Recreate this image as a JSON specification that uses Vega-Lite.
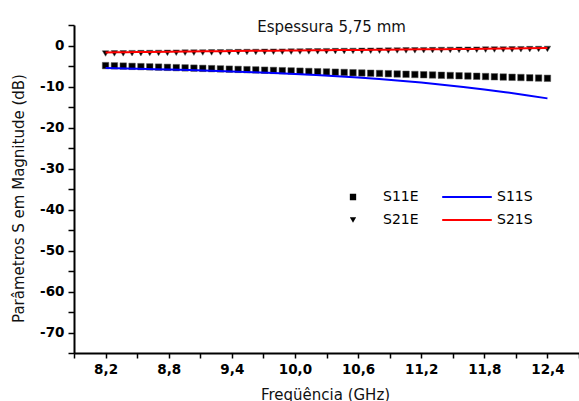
{
  "$schema": "https://vega.github.io/schema/vega-lite/v6.json",
  "width": 505,
  "height": 328,
  "autosize": {"type": "none"},
  "padding": {"left": 74, "top": 25, "right": 0, "bottom": 48},
  "background": "white",
  "title": {
    "text": "Espessura 5,75 mm",
    "font": "DejaVu Sans",
    "fontSize": 15,
    "fontWeight": "normal",
    "color": "#111111",
    "anchor": "middle",
    "frame": "group",
    "baseline": "alphabetic",
    "offset": -1,
    "dx": 5,
    "dy": 22
  },
  "datasets": {
    "exp": [
      {"f": 8.2, "S11E": -4.90, "S21E": -1.95},
      {"f": 8.284, "S11E": -4.96, "S21E": -1.93},
      {"f": 8.368, "S11E": -5.02, "S21E": -1.91},
      {"f": 8.452, "S11E": -5.09, "S21E": -1.88},
      {"f": 8.536, "S11E": -5.15, "S21E": -1.86},
      {"f": 8.62, "S11E": -5.21, "S21E": -1.84},
      {"f": 8.704, "S11E": -5.27, "S21E": -1.82},
      {"f": 8.788, "S11E": -5.33, "S21E": -1.80},
      {"f": 8.872, "S11E": -5.40, "S21E": -1.77},
      {"f": 8.956, "S11E": -5.46, "S21E": -1.75},
      {"f": 9.04, "S11E": -5.52, "S21E": -1.73},
      {"f": 9.124, "S11E": -5.58, "S21E": -1.71},
      {"f": 9.208, "S11E": -5.64, "S21E": -1.69},
      {"f": 9.292, "S11E": -5.71, "S21E": -1.66},
      {"f": 9.376, "S11E": -5.77, "S21E": -1.64},
      {"f": 9.46, "S11E": -5.83, "S21E": -1.62},
      {"f": 9.544, "S11E": -5.89, "S21E": -1.60},
      {"f": 9.628, "S11E": -5.95, "S21E": -1.58},
      {"f": 9.712, "S11E": -6.02, "S21E": -1.55},
      {"f": 9.796, "S11E": -6.08, "S21E": -1.53},
      {"f": 9.88, "S11E": -6.14, "S21E": -1.51},
      {"f": 9.964, "S11E": -6.20, "S21E": -1.49},
      {"f": 10.048, "S11E": -6.26, "S21E": -1.47},
      {"f": 10.132, "S11E": -6.33, "S21E": -1.44},
      {"f": 10.216, "S11E": -6.39, "S21E": -1.42},
      {"f": 10.3, "S11E": -6.45, "S21E": -1.40},
      {"f": 10.384, "S11E": -6.51, "S21E": -1.38},
      {"f": 10.468, "S11E": -6.57, "S21E": -1.36},
      {"f": 10.552, "S11E": -6.64, "S21E": -1.33},
      {"f": 10.636, "S11E": -6.70, "S21E": -1.31},
      {"f": 10.72, "S11E": -6.76, "S21E": -1.29},
      {"f": 10.804, "S11E": -6.82, "S21E": -1.27},
      {"f": 10.888, "S11E": -6.88, "S21E": -1.25},
      {"f": 10.972, "S11E": -6.95, "S21E": -1.22},
      {"f": 11.056, "S11E": -7.01, "S21E": -1.20},
      {"f": 11.14, "S11E": -7.07, "S21E": -1.18},
      {"f": 11.224, "S11E": -7.13, "S21E": -1.16},
      {"f": 11.308, "S11E": -7.19, "S21E": -1.14},
      {"f": 11.392, "S11E": -7.26, "S21E": -1.11},
      {"f": 11.476, "S11E": -7.32, "S21E": -1.09},
      {"f": 11.56, "S11E": -7.38, "S21E": -1.07},
      {"f": 11.644, "S11E": -7.44, "S21E": -1.05},
      {"f": 11.728, "S11E": -7.50, "S21E": -1.03},
      {"f": 11.812, "S11E": -7.57, "S21E": -1.00},
      {"f": 11.896, "S11E": -7.63, "S21E": -0.98},
      {"f": 11.98, "S11E": -7.69, "S21E": -0.96},
      {"f": 12.064, "S11E": -7.75, "S21E": -0.94},
      {"f": 12.148, "S11E": -7.81, "S21E": -0.92},
      {"f": 12.232, "S11E": -7.88, "S21E": -0.89},
      {"f": 12.316, "S11E": -7.94, "S21E": -0.87},
      {"f": 12.4, "S11E": -8.00, "S21E": -0.85}
    ],
    "sim": [
      {"f": 8.2, "S11S": -5.50, "S21S": -1.70},
      {"f": 8.4, "S11S": -5.62, "S21S": -1.64},
      {"f": 8.6, "S11S": -5.74, "S21S": -1.58},
      {"f": 8.8, "S11S": -5.86, "S21S": -1.52},
      {"f": 9.0, "S11S": -6.00, "S21S": -1.46},
      {"f": 9.2, "S11S": -6.15, "S21S": -1.41},
      {"f": 9.4, "S11S": -6.32, "S21S": -1.36},
      {"f": 9.6, "S11S": -6.50, "S21S": -1.31},
      {"f": 9.8, "S11S": -6.71, "S21S": -1.26},
      {"f": 10.0, "S11S": -6.94, "S21S": -1.21},
      {"f": 10.2, "S11S": -7.20, "S21S": -1.16},
      {"f": 10.4, "S11S": -7.49, "S21S": -1.12},
      {"f": 10.6, "S11S": -7.82, "S21S": -1.07},
      {"f": 10.8, "S11S": -8.19, "S21S": -1.03},
      {"f": 11.0, "S11S": -8.60, "S21S": -0.99},
      {"f": 11.2, "S11S": -9.05, "S21S": -0.94},
      {"f": 11.4, "S11S": -9.56, "S21S": -0.90},
      {"f": 11.6, "S11S": -10.11, "S21S": -0.85},
      {"f": 11.8, "S11S": -10.72, "S21S": -0.80},
      {"f": 12.0, "S11S": -11.38, "S21S": -0.74},
      {"f": 12.2, "S11S": -12.11, "S21S": -0.68},
      {"f": 12.4, "S11S": -12.90, "S21S": -0.62}
    ]
  },
  "config": {
    "view": {"stroke": null},
    "axis": {
      "grid": false,
      "domainColor": "black",
      "domainWidth": 2,
      "tickColor": "black",
      "tickWidth": 1.5,
      "labelFont": "DejaVu Sans",
      "labelFontSize": 13.5,
      "labelFontWeight": "bold",
      "labelColor": "black",
      "titleFont": "DejaVu Sans",
      "titleFontSize": 15,
      "titleFontWeight": "normal",
      "titleColor": "#111111"
    },
    "legend": {
      "labelFont": "DejaVu Sans",
      "labelFontSize": 14,
      "labelColor": "black",
      "padding": 0,
      "rowPadding": 9,
      "clipHeight": 14
    }
  },
  "encoding": {
    "x": {
      "field": "f", "type": "quantitative",
      "scale": {"domain": [7.9, 12.7], "nice": false, "zero": false},
      "axis": {
        "values": [7.9, 8.2, 8.5, 8.8, 9.1, 9.4, 9.7, 10.0, 10.3, 10.6, 10.9, 11.2, 11.5, 11.8, 12.1, 12.4, 12.7],
        "labelExpr": "round(datum.value*10) % 6 == 4 ? replace(format(datum.value, '.1f'), '.', ',') : ''",
        "tickSize": 5,
        "labelPadding": 4,
        "title": "Freqüência (GHz)",
        "titleX": 251,
        "titleY": 46,
        "titleBaseline": "alphabetic",
        "titleAlign": "center",
        "encode": {"ticks": {"update": {"strokeDash": {"signal": "round(datum.value*10) % 6 == 4 ? [20, 0] : [3, 20]"}}}}
      }
    },
    "y": {
      "field": "valor", "type": "quantitative",
      "scale": {"domain": [-75, 5], "nice": false, "zero": false},
      "axis": {
        "values": [5, 0, -5, -10, -15, -20, -25, -30, -35, -40, -45, -50, -55, -60, -65, -70, -75],
        "labelExpr": "datum.value % 10 == 0 ? '' + datum.value : ''",
        "tickSize": 6,
        "labelPadding": 4,
        "title": "Parâmetros S em Magnitude (dB)",
        "titleX": -51,
        "titleY": 173,
        "titleAngle": -90,
        "titleBaseline": "alphabetic",
        "titleAlign": "center",
        "encode": {"ticks": {"update": {"strokeDash": {"signal": "datum.value % 10 == 0 ? [20, 0] : [3, 20]"}}}}
      }
    }
  },
  "layer": [
    {
      "data": {"name": "exp"},
      "transform": [{"fold": ["S11E", "S21E"], "as": ["serie", "valor"]}],
      "mark": {"type": "point", "filled": true, "color": "black", "opacity": 1, "size": 42, "stroke": "#555555", "strokeWidth": 0.5},
      "encoding": {
        "shape": {
          "field": "serie", "type": "nominal",
          "scale": {"domain": ["S11E", "S21E"], "range": ["square", "triangle-down"]},
          "legend": {
            "title": null,
            "orient": "none",
            "legendX": 272,
            "legendY": 165,
            "symbolSize": 40,
            "symbolFillColor": "black",
            "symbolStrokeColor": "black",
            "symbolStrokeWidth": 0,
            "labelOffset": 23
          }
        }
      }
    },
    {
      "data": {"name": "sim"},
      "transform": [{"fold": ["S11S", "S21S"], "as": ["serie", "valor"]}],
      "mark": {"type": "line", "strokeWidth": 2, "interpolate": "monotone"},
      "encoding": {
        "stroke": {
          "field": "serie", "type": "nominal",
          "scale": {"domain": ["S11S", "S21S"], "range": ["#0000ff", "#ff0000"]},
          "legend": {
            "title": null,
            "orient": "none",
            "legendX": 367,
            "legendY": 165,
            "symbolType": "stroke",
            "symbolSize": 2460,
            "symbolStrokeWidth": 2,
            "labelOffset": 4
          }
        }
      }
    }
  ]
}
